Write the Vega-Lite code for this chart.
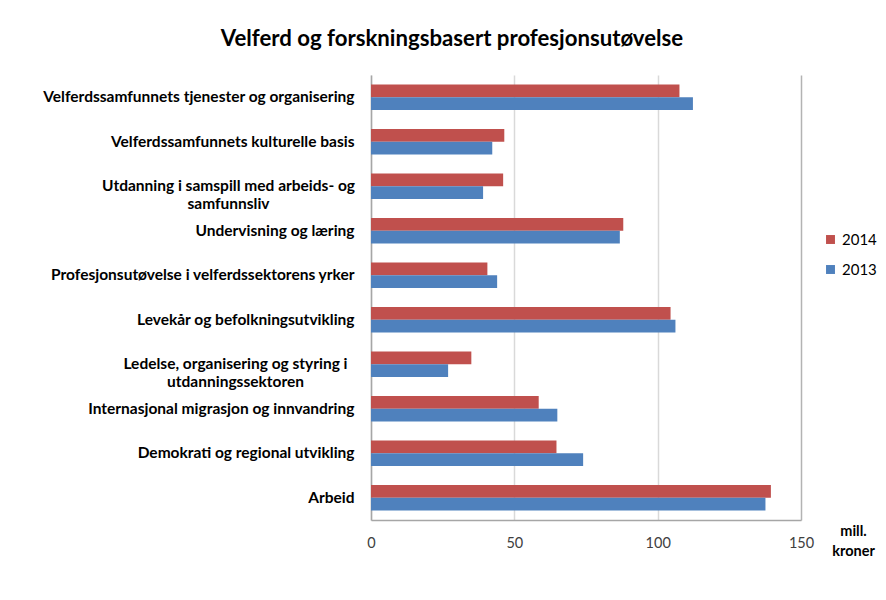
{
  "$schema": "https://vega.github.io/schema/vega-lite/v6.json",
  "autosize": "none",
  "width": 430,
  "height": 445,
  "padding": {"left": 371, "top": 75, "right": 85, "bottom": 80},
  "background": "white",
  "title": {
    "text": "Velferd og forskningsbasert profesjonsutøvelse",
    "font": "Lato",
    "fontSize": 22.2,
    "fontWeight": "bold",
    "color": "#000000",
    "anchor": "middle",
    "dx": -134,
    "offset": 25
  },
  "data": {
    "values": [
      {"kategori": "Velferdssamfunnets tjenester og organisering", "år": "2014", "verdi": 107.6},
      {"kategori": "Velferdssamfunnets tjenester og organisering", "år": "2013", "verdi": 112.3},
      {"kategori": "Velferdssamfunnets kulturelle basis", "år": "2014", "verdi": 46.5},
      {"kategori": "Velferdssamfunnets kulturelle basis", "år": "2013", "verdi": 42.3},
      {"kategori": "Utdanning i samspill med arbeids- og samfunnsliv", "år": "2014", "verdi": 46.1},
      {"kategori": "Utdanning i samspill med arbeids- og samfunnsliv", "år": "2013", "verdi": 39.1},
      {"kategori": "Undervisning og læring", "år": "2014", "verdi": 88.0},
      {"kategori": "Undervisning og læring", "år": "2013", "verdi": 86.8},
      {"kategori": "Profesjonsutøvelse i velferdssektorens yrker", "år": "2014", "verdi": 40.6},
      {"kategori": "Profesjonsutøvelse i velferdssektorens yrker", "år": "2013", "verdi": 44.0},
      {"kategori": "Levekår og befolkningsutvikling", "år": "2014", "verdi": 104.5},
      {"kategori": "Levekår og befolkningsutvikling", "år": "2013", "verdi": 106.2},
      {"kategori": "Ledelse, organisering og styring i utdanningssektoren", "år": "2014", "verdi": 35.0},
      {"kategori": "Ledelse, organisering og styring i utdanningssektoren", "år": "2013", "verdi": 26.9},
      {"kategori": "Internasjonal migrasjon og innvandring", "år": "2014", "verdi": 58.5},
      {"kategori": "Internasjonal migrasjon og innvandring", "år": "2013", "verdi": 65.0},
      {"kategori": "Demokrati og regional utvikling", "år": "2014", "verdi": 64.7},
      {"kategori": "Demokrati og regional utvikling", "år": "2013", "verdi": 74.0},
      {"kategori": "Arbeid", "år": "2014", "verdi": 139.5},
      {"kategori": "Arbeid", "år": "2013", "verdi": 137.6}
    ]
  },
  "mark": {"type": "bar"},
  "encoding": {
    "y": {
      "field": "kategori",
      "type": "nominal",
      "sort": null,
      "scale": {"paddingInner": 0.43, "paddingOuter": 0.215},
      "axis": {
        "title": null,
        "ticks": false,
        "domainColor": "#a6a6a6",
        "domainWidth": 1.5,
        "labelFont": "Lato",
        "labelFontSize": 15.5,
        "labelFontWeight": "bold",
        "labelColor": "#000000",
        "labelAlign": {"condition": {"test": "indexof(datum.value, 'Utdanning i') === 0 || indexof(datum.value, 'Ledelse') === 0", "value": "center"}, "value": "right"},
        "labelPadding": {"condition": [{"test": "indexof(datum.value, 'Utdanning i') === 0", "value": 143}, {"test": "indexof(datum.value, 'Ledelse') === 0", "value": 136}], "value": 17},
        "labelLimit": 400,
        "labelLineHeight": 18,
        "labelExpr": "datum.value == 'Utdanning i samspill med arbeids- og samfunnsliv' ? ['Utdanning i samspill med arbeids- og', 'samfunnsliv'] : datum.value == 'Ledelse, organisering og styring i utdanningssektoren' ? ['Ledelse, organisering og styring i', 'utdanningssektoren'] : datum.value"
      }
    },
    "yOffset": {
      "field": "år",
      "type": "nominal",
      "sort": ["2014", "2013"],
      "scale": {"paddingInner": 0, "paddingOuter": 0}
    },
    "x": {
      "field": "verdi",
      "type": "quantitative",
      "scale": {"domain": [0, 150], "nice": false},
      "axis": {
        "values": [0, 50, 100, 150],
        "ticks": false,
        "labelFlush": false,
        "domainColor": "#a6a6a6",
        "domainWidth": 1.5,
        "gridColor": {"condition": {"test": "datum.value === 150", "value": "#b3b3b3"}, "value": "#d9d9d9"},
        "gridWidth": 1.5,
        "labelFont": "Lato",
        "labelFontSize": 14.5,
        "labelColor": "#404040",
        "labelPadding": 16,
        "title": ["mill.", "kroner"],
        "titleFont": "Lato",
        "titleFontSize": 14.5,
        "titleFontWeight": "bold",
        "titleColor": "#000000",
        "titleAlign": "center",
        "titleBaseline": "top",
        "titleLineHeight": 20,
        "titleX": 482,
        "titleY": 4
      }
    },
    "color": {
      "field": "år",
      "type": "nominal",
      "scale": {"domain": ["2014", "2013"], "range": ["#C0504D", "#4F81BD"]},
      "legend": {
        "title": null,
        "orient": "none",
        "legendX": 452,
        "legendY": 157,
        "symbolType": "square",
        "symbolSize": 80,
        "symbolStrokeWidth": 0,
        "labelFont": "Lato",
        "labelFontSize": 15,
        "labelColor": "#000000",
        "rowPadding": 14
      }
    }
  },
  "config": {
    "view": {"stroke": null},
    "axis": {"grid": true},
    "axisY": {"grid": false}
  }
}
